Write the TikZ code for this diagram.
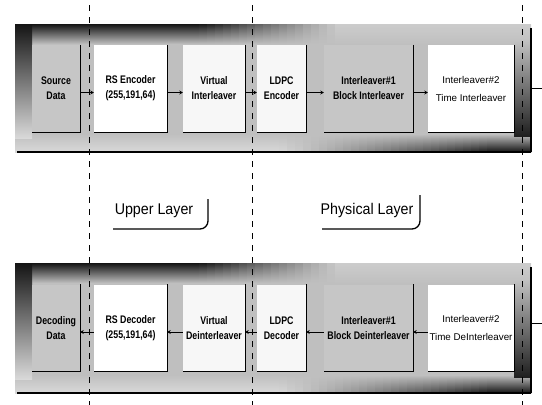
\documentclass[tikz,border=0pt]{standalone}
\usepackage{fontspec}
\setmainfont{Liberation Sans}
\newfontfamily\boxfont{Liberation Sans}[FakeStretch=0.8]
\newfontfamily\lblfont{Liberation Sans}[FakeStretch=0.92]
\usetikzlibrary{arrows.meta}
\begin{document}
\begin{tikzpicture}[x=1pt,y=-1pt,
  boxw/.style={minimum height=87pt,inner sep=1pt,align=center,font=\boxfont\fontsize{11}{15}\selectfont\bfseries,fill=gray!6},
  boxg/.style={boxw,fill=gray!45},
  boxt/.style={boxw,fill=white,font=\fontsize{9.8}{18}\selectfont},
  shade line/.style={line width=1.4pt,black},
  link/.style={line width=0.9pt,-{Stealth[length=3.5pt,width=4pt]}},
  divider/.style={line width=1pt,dash pattern=on 6pt off 6pt},
  layerlbl/.style={font=\lblfont\fontsize{15.5}{17}\selectfont},
  bracket/.style={line width=1.3pt,rounded corners=8pt},
  tick/.style={line width=0.8pt}]
\useasboundingbox (0,0) rectangle (542,405);

% ---- bands (built from thin opaque slices) ----
\foreach \t/\b in {24/152,263/393}{
  \foreach \i in {0,...,64}{
    \pgfmathsetmacro\xa{15+8*\i}
    \pgfmathsetmacro\xb{min(\xa+8.6,531)}
    \pgfmathsetmacro\xm{\xa+4}
    \pgfmathtruncatemacro\tp{\xm<200 ? 92 : (\xm>340 ? 20 : 92-(\xm-200)/140*72)}
    \pgfmathtruncatemacro\bp{\xm<280 ? 15 : (\xm>490 ? 92 : 15+(\xm-280)/210*77)}
    \fill[top color=black!\tp, bottom color=black!25] (\xa,\t) rectangle (\xb,\t+20);
    \fill[black!25] (\xa,\t+19.6) rectangle (\xb,\b-17.6);
    \fill[top color=black!25, bottom color=black!\bp] (\xa,\b-18) rectangle (\xb,\b);
  }
  \fill[top color=black!92, bottom color=black!15] (15,\t) rectangle (32,\b-14);
  \fill[top color=black!25, bottom color=black!88] (514,\t+18) rectangle (531,\b-16);
  \draw[line width=1.6pt] (17,\b) -- (531,\b);
  \draw[line width=1.8pt] (531,\t+4) -- (531,\b);
}

% ---- dividers ----
\draw[divider] (89,5) -- (89,405);
\draw[divider] (252,5) -- (252,405);
\draw[divider] (522,5) -- (522,405);

% ---- top row ----
\node[boxg, minimum width=48pt] (a1) at (56,88.5) {Source\\Data};
\node[boxw, minimum width=73pt, fill=white] (a2) at (130.5,88.5) {RS Encoder\\(255,191,64)};
\node[boxw, minimum width=62pt] (a3) at (214,88.5) {Virtual\\Interleaver};
\node[boxw, minimum width=49pt] (a4) at (281.5,88.5) {LDPC\\Encoder};
\node[boxg, minimum width=89pt] (a5) at (368.5,88.5) {Interleaver\#1\\Block Interleaver};
\node[boxt, minimum width=86pt] (a6) at (471,88.5) {Interleaver\#2\\Time Interleaver};

% ---- bottom row ----
\node[boxg, minimum width=48pt] (b1) at (56,328) {Decoding\\Data};
\node[boxw, minimum width=73pt, fill=white] (b2) at (130.5,328) {RS Decoder\\(255,191,64)};
\node[boxw, minimum width=62pt] (b3) at (214,328) {Virtual\\Deinterleaver};
\node[boxw, minimum width=49pt] (b4) at (281.5,328) {LDPC\\Decoder};
\node[boxg, minimum width=89pt] (b5) at (368.5,328) {Interleaver\#1\\Block Deinterleaver};
\node[boxt, minimum width=86pt] (b6) at (471,328) {Interleaver\#2\\Time DeInterleaver};

% shadows
\foreach \n in {a1,a2,a3,a4,a5,a6,b1,b2,b3,b4,b5,b6}{
  \draw[shade line] (\n.north east) -- (\n.south east) -- (\n.south west);
}

% connectors
\foreach \p/\q in {a1/a2,a2/a3,a3/a4,a4/a5,a5/a6}{
  \draw[link] ([yshift=-4pt]\p.east) -- ([yshift=-4pt]\q.west);
}
\foreach \p/\q in {b2/b1,b3/b2,b4/b3,b5/b4,b6/b5}{
  \draw[link] ([yshift=-4pt]\p.west) -- ([yshift=-4pt]\q.east);
}

% right ticks
\coordinate (ta) at (542,88);
\coordinate (tb) at (542,323);
\draw[tick] (531,88) -- (ta);
\draw[tick] (531,323) -- (tb);

% layer labels
\node[layerlbl] (ul) at (154,211) {Upper Layer};
\node[layerlbl] (pl) at (367,210) {Physical Layer};
\draw[bracket] (113,229) -| (208,199);
\draw[bracket] (322,229) -| (420,195);
\end{tikzpicture}
\end{document}
